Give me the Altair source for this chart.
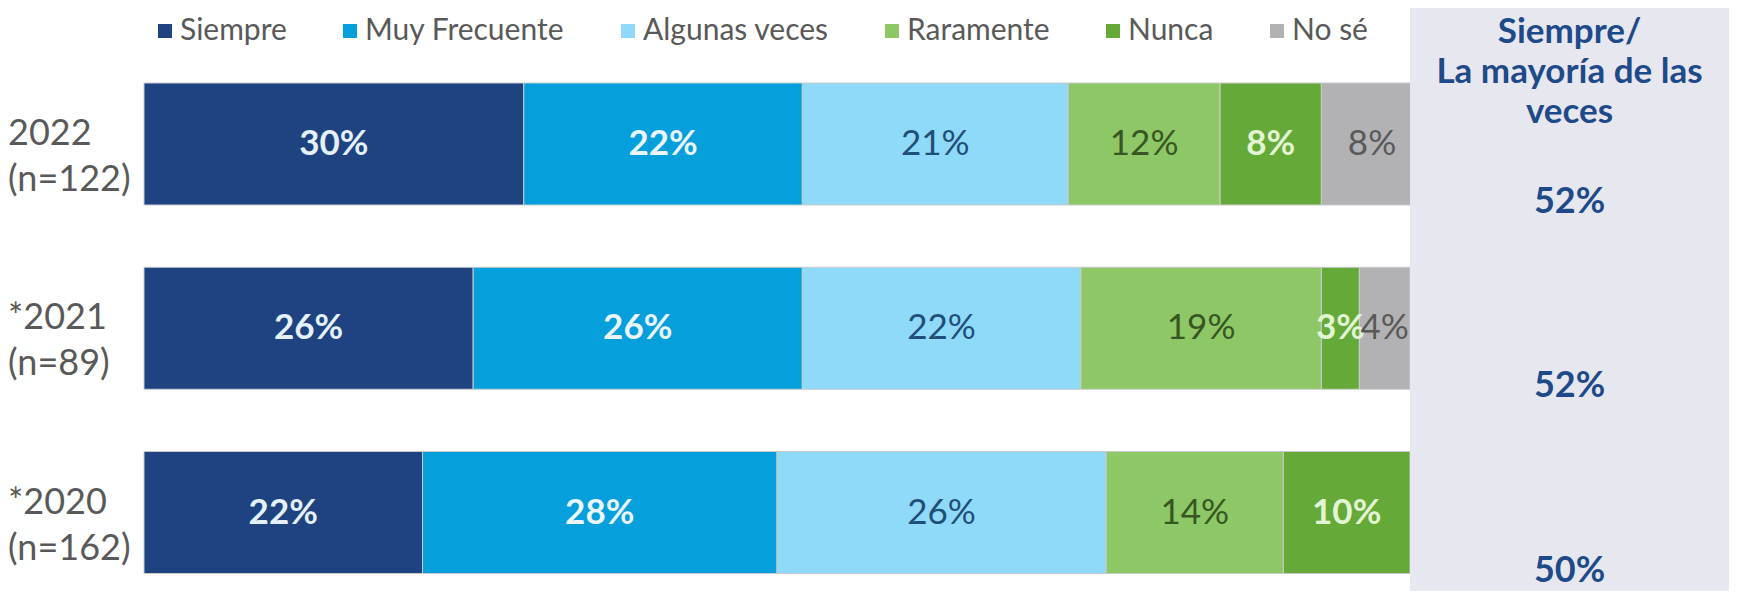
import altair as alt
import pandas as pd

# ---------------- data ----------------
years = ["2022", "*2021", "*2020"]
sample_n = ["(n=122)", "(n=89)", "(n=162)"]
categories = ["Siempre", "Muy Frecuente", "Algunas veces", "Raramente", "Nunca", "No sé"]
siempre = [30, 26, 22]
muy_frecuente = [22, 26, 28]
algunas_veces = [21, 22, 26]
raramente = [12, 19, 14]
nunca = [8, 3, 10]
no_se = [8, 4, 0]
siempre_mayoria = [52, 52, 50]
panel_title = "Siempre/\nLa mayoría de las\nveces"

# ---------------- styles ----------------
bar_colors = ["#1E4380", "#059FDB", "#8FD9F9", "#8EC766", "#65AA38", "#B2B2B4"]
label_colors = ["#E4F0FA", "#EAF6FC", "#1F4E79", "#375623", "#E2F5D3", "#595959"]
bold_cats = {"Siempre", "Muy Frecuente", "Nunca"}
PANEL = "#E7E8EF"
PANEL_TEXT = "#1F4A8A"
GRAY_TEXT = "#595959"
FONT = "Lato"

# ---------------- layout ----------------
W, H = 1721, 583
X0 = 136.0      # pixel of 0 %
PX = 12.66      # pixels per 1 %
xdom = [-X0 / PX, (W - X0) / PX]
centers = [136.0, 320.0, 504.5]
step = (centers[-1] - centers[0]) / 2
band = 122.0
p_in = 1 - band / step
p_out = p_in / 2
y_range = [centers[0] - step / 2, centers[-1] + step / 2]
panel_left = X0 + 100 * PX
panel_cx = (panel_left + W) / 2

series = [siempre, muy_frecuente, algunas_veces, raramente, nunca, no_se]
rows = []
for i, yr in enumerate(years):
    cum = 0
    for c, vals in zip(categories, series):
        v = vals[i]
        rows.append({
            "year": yr, "cat": c, "value": v,
            "start": cum, "end": cum + v, "mid": cum + v / 2,
            "label": f"{v}%", "bold": c in bold_cats,
        })
        cum += v
df = pd.DataFrame(rows)

row_df = pd.DataFrame({"year": years,
                       "rowlabel": [f"{y}\n{n}" for y, n in zip(years, sample_n)]})
panel_df = pd.DataFrame({"year": years, "txt": [f"{v}%" for v in siempre_mayoria]})
dummy = pd.DataFrame({"a": [0]})

x_scale = alt.Scale(domain=xdom, nice=False, zero=False)
y_enc = alt.Y("year:N", axis=None,
              scale=alt.Scale(domain=years, range=y_range,
                              paddingInner=p_in, paddingOuter=p_out))

bars = alt.Chart(df).transform_filter("datum.value > 0").mark_bar(
    stroke="#C9CBCF", strokeWidth=1
).encode(
    x=alt.X("start:Q", scale=x_scale, axis=None),
    x2="end:Q",
    y=y_enc,
    color=alt.Color(
        "cat:N",
        scale=alt.Scale(domain=categories, range=bar_colors),
        legend=alt.Legend(
            title=None, orient="none", legendX=142, legendY=8,
            direction="horizontal", columns=6, symbolType="square",
            symbolSize=196, symbolStrokeWidth=0, labelFont=FONT,
            labelFontSize=30, labelColor=GRAY_TEXT, labelLimit=400,
            labelOffset=0, columnPadding=48, padding=0,
        ),
    ),
)

def label_layer(bold):
    return alt.Chart(df).transform_filter(
        f"datum.value > 0 && datum.bold == {'true' if bold else 'false'}"
    ).mark_text(
        font=FONT, fontSize=35, fontWeight="bold" if bold else "normal",
        baseline="middle", align="center",
    ).encode(
        x=alt.X("mid:Q", scale=x_scale, axis=None),
        y=y_enc,
        text="label:N",
        color=alt.Color("cat:N", scale=alt.Scale(domain=categories, range=label_colors),
                        legend=None),
    )

panel_bg = alt.Chart(dummy).mark_rect(color=PANEL).encode(
    x=alt.datum(100), x2=alt.value(W), y=alt.value(0), y2=alt.value(H)
)

panel_head = alt.Chart(dummy).mark_text(
    font=FONT, fontSize=35, fontWeight="bold", color=PANEL_TEXT,
    align="center", baseline="alphabetic", lineBreak="\n", lineHeight=40,
).encode(x=alt.value(panel_cx), y=alt.value(35), text=alt.value(panel_title))

panel_vals = alt.Chart(panel_df).mark_text(
    font=FONT, fontSize=36, fontWeight="bold", color=PANEL_TEXT,
    align="center", baseline="middle", dy=58,
).encode(x=alt.value(panel_cx), y=y_enc, text="txt:N")

row_labels = alt.Chart(row_df).mark_text(
    font=FONT, fontSize=36, color=GRAY_TEXT, align="left", baseline="middle",
    lineBreak="\n", lineHeight=46, dy=-10,
).encode(x=alt.value(0), y=y_enc, text="rowlabel:N")

chart = alt.layer(
    bars, label_layer(True), label_layer(False), panel_bg, panel_head, panel_vals, row_labels
).resolve_scale(color="independent").properties(
    width=W, height=H, padding=0, autosize=alt.AutoSizeParams(type="none"),
    background="white",
).configure_view(stroke=None)

chart.save("out.html", embed_options={"renderer": "svg", "actions": False})
